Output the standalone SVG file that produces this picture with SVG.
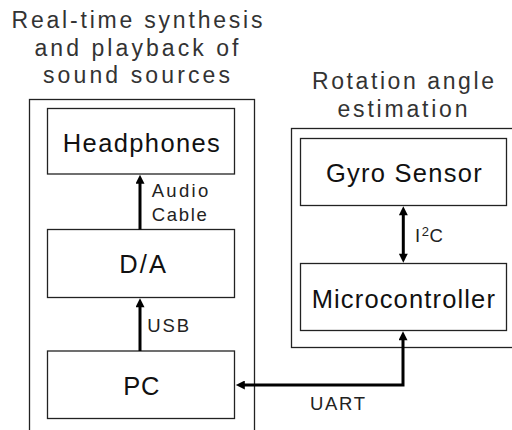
<svg xmlns="http://www.w3.org/2000/svg" width="512" height="430" viewBox="0 0 512 430">
<defs>
<style>
.box{fill:#fff;stroke:#222;stroke-width:1.3}
.frame{fill:none;stroke:#222;stroke-width:1.3}
.title{font-family:"Liberation Sans",Arial,sans-serif;font-size:23px;fill:#333;text-anchor:middle}
.lbl{font-family:"Liberation Sans",Arial,sans-serif;font-size:25.5px;fill:#111;text-anchor:middle}
.small{font-family:"Liberation Sans",Arial,sans-serif;font-size:18.5px;fill:#222}
.conn{fill:none;stroke:#000;stroke-width:3;stroke-linejoin:miter}
</style>
<marker id="ah" viewBox="0 0 10 10" refX="2" refY="5" markerWidth="10" markerHeight="9" markerUnits="userSpaceOnUse" orient="auto-start-reverse">
<path d="M0,0 L10,5 L0,10 z" fill="#000"/>
</marker>
</defs>
<rect width="512" height="430" fill="#fff"/>

<g id="group-left">
<rect class="frame" x="29.5" y="99.5" width="225" height="345"/>
<text class="title" x="137" y="28" textLength="251" lengthAdjust="spacing">Real-time synthesis</text>
<text class="title" x="136.5" y="55.5" textLength="204" lengthAdjust="spacing">and playback of</text>
<text class="title" x="136.5" y="83" textLength="187" lengthAdjust="spacing">sound sources</text>
</g>

<g id="group-right">
<rect class="frame" x="291.5" y="128.5" width="230" height="219"/>
<text class="title" x="403" y="89.3" textLength="182" lengthAdjust="spacing">Rotation angle</text>
<text class="title" x="402.5" y="116.7" textLength="130" lengthAdjust="spacing">estimation</text>
</g>

<g id="headphones">
<rect class="box" x="47.5" y="108.5" width="187" height="65.5"/>
<text class="lbl" x="141.3" y="151.7" textLength="157" lengthAdjust="spacing">Headphones</text>
</g>

<g id="da">
<rect class="box" x="47.5" y="229.5" width="187" height="68"/>
<text class="lbl" x="142.7" y="272.7" textLength="46.7" lengthAdjust="spacing">D/A</text>
</g>

<g id="pc">
<rect class="box" x="47.5" y="351" width="187" height="67.5"/>
<text class="lbl" x="141.3" y="395" textLength="36" lengthAdjust="spacing">PC</text>
</g>

<g id="gyro">
<rect class="box" x="300.5" y="138.5" width="206" height="67"/>
<text class="lbl" x="403.8" y="181.7" textLength="155.7" lengthAdjust="spacing">Gyro Sensor</text>
</g>

<g id="micro">
<rect class="box" x="300.5" y="263.5" width="206" height="67"/>
<text class="lbl" x="403.3" y="308.3" textLength="183.3" lengthAdjust="spacing">Microcontroller</text>
</g>

<g id="connectors">
<line class="conn" x1="140" y1="229.5" x2="140" y2="182" marker-end="url(#ah)"/>
<line class="conn" x1="140" y1="351" x2="140" y2="305.5" marker-end="url(#ah)"/>
<line class="conn" x1="403.3" y1="213.5" x2="403.3" y2="255.5" marker-start="url(#ah)" marker-end="url(#ah)"/>
<path class="conn" d="M243,385 H403 V338.5" marker-start="url(#ah)" marker-end="url(#ah)"/>
<text class="small" x="151.7" y="196.7" textLength="56.6" lengthAdjust="spacing">Audio</text>
<text class="small" x="151.7" y="220.7" textLength="55" lengthAdjust="spacing">Cable</text>
<text class="small" x="147.3" y="332.3" textLength="41.7" lengthAdjust="spacing">USB</text>
<text class="small" x="310" y="410" textLength="55" lengthAdjust="spacing">UART</text>
<text class="small" x="415" y="241.7">I<tspan font-size="13" dy="-5.5" dx="1.5">2</tspan><tspan dy="5.5" dx="0.5">C</tspan></text>
</g>
</svg>
